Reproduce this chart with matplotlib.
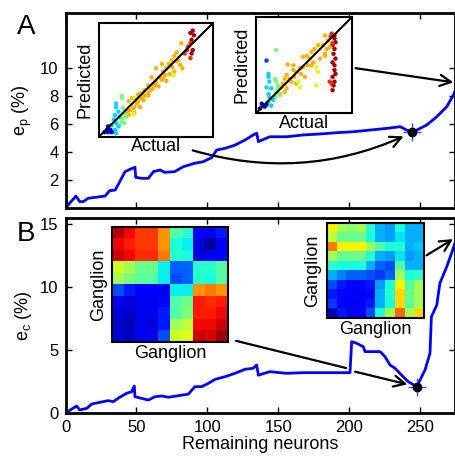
import matplotlib
matplotlib.use("Agg")
import matplotlib.pyplot as plt
import numpy as np

plt.rcParams['font.family'] = ['Liberation Sans', 'DejaVu Sans']

# panel A: prediction error vs remaining neurons
n_p = [0, 7.4, 10, 12.5, 16, 28, 31, 35, 37, 42, 45.5, 49, 49.5, 53.7, 58.4, 62, 66.6, 70, 77, 83,
       91, 97, 103, 106.6, 112.5, 119.5, 126.6, 132.4, 134.8, 136, 144, 156, 167.7, 179.5, 191,
       203, 214.7, 226.5, 236, 240.6, 244.6, 250, 254.7, 261.8, 268.8, 273.5, 275]
e_p = [0, 0.85, 0.45, 0.45, 0.69, 0.85, 1.23, 1.28, 1.64, 2.6, 2.77, 2.91, 2.19, 2.12, 2.12, 2.6, 2.72,
       2.55, 2.6, 2.95, 3.2, 3.31, 3.6, 4.15, 4.27, 4.5, 4.87, 5.23, 5.35, 4.75, 5.1, 5.1, 5.23, 5.3,
       5.39, 5.46, 5.58, 5.7, 5.82, 5.58, 5.42, 5.7, 5.94, 6.54, 7.25, 8.09, 8.45]
mark_p = (244.6, 5.42)

# panel B: correlation error vs remaining neurons
n_c = [0, 7.9, 10, 15, 18.5, 23, 30, 33.7, 37, 43, 46.7, 48.5, 49, 53.7, 58.4, 63, 67.8, 72.5, 79.5,
       86.6, 91.3, 96, 100.7, 105.4, 112.5, 119.5, 126.6, 132.4, 134.8, 136, 144, 156, 167.7, 179.5,
       191, 200.6, 201.8, 205.3, 210, 211.2, 221.8, 225.3, 228.8, 232.4, 237, 241.7, 247.7, 250,
       253.5, 257, 258, 261.8, 264, 268.8, 272.3, 275]
e_c = [0, 0.56, 0.24, 0.37, 0.71, 0.82, 0.98, 0.9, 1.16, 1.56, 1.69, 2.14, 1.29, 1.16, 1.03, 1.29, 1.35,
       1.25, 1.37, 1.5, 2.09, 2.09, 2.35, 2.67, 2.88, 3.15, 3.47, 3.55, 3.81, 3.0, 3.28, 3.15, 3.2, 3.2,
       3.2, 3.2, 5.66, 5.53, 5.26, 4.87, 4.87, 4.47, 3.81, 3.55, 3.0, 2.48, 2.09, 2.62, 3.41, 4.74,
       7.64, 8.57, 10.3, 11.6, 12.7, 13.6]
mark_c = (247.7, 2.09)

# inset A1 scatter (actual, predicted, colour value)
act1 = [0.82, 0.83, 0.81, 0.82, 0.81, 0.80,
        0.80, 0.78, 0.80, 0.75, 0.77,
        0.72, 0.68, 0.66, 0.64, 0.69, 0.71, 0.73, 0.61, 0.59, 0.56, 0.58, 0.53, 0.55, 0.50, 0.49, 0.47,
        0.52, 0.45, 0.43, 0.40, 0.43, 0.39, 0.37, 0.34, 0.33, 0.36, 0.31, 0.30, 0.29, 0.26, 0.27, 0.24,
        0.26, 0.34, 0.59, 0.62, 0.66, 0.50, 0.55, 0.46, 0.40, 0.48, 0.31, 0.68, 0.64, 0.56, 0.43, 0.37,
        0.65, 0.30, 0.31,
        0.20, 0.20, 0.21, 0.23, 0.21, 0.20, 0.24, 0.18, 0.22,
        0.15, 0.15, 0.17, 0.14, 0.13, 0.15, 0.17, 0.14, 0.13, 0.15, 0.11, 0.18,
        0.08, 0.07, 0.08, 0.10, 0.05, 0.11]
pred1 = [0.93, 0.89, 0.85, 0.76, 0.73, 0.91,
         0.82, 0.79, 0.69, 0.73, 0.76,
         0.82, 0.74, 0.71, 0.67, 0.67, 0.63, 0.60, 0.64, 0.60, 0.57, 0.54, 0.52, 0.50, 0.48, 0.45, 0.42,
         0.44, 0.41, 0.38, 0.36, 0.36, 0.32, 0.34, 0.31, 0.29, 0.26, 0.26, 0.25, 0.34, 0.31, 0.23, 0.22,
         0.19, 0.37, 0.49, 0.55, 0.57, 0.60, 0.64, 0.52, 0.41, 0.46, 0.21, 0.66, 0.61, 0.51, 0.45, 0.38,
         0.54, 0.20, 0.34,
         0.36, 0.34, 0.25, 0.19, 0.16, 0.13, 0.18, 0.10, 0.12,
         0.29, 0.26, 0.22, 0.19, 0.15, 0.12, 0.09, 0.06, 0.04, 0.03, 0.10, 0.17,
         0.09, 0.06, 0.04, 0.06, 0.04, 0.04]
col1 = [0.97] * 6 + [0.87] * 5 + [0.72] * 48 + [0.62] * 3 + [0.5] * 9 + [0.33] * 12 + [0.08] * 6

# inset A2 scatter
act2 = [0.82, 0.82, 0.83, 0.80, 0.82, 0.81, 0.83, 0.80, 0.82, 0.82, 0.83, 0.80, 0.82, 0.81, 0.80,
        0.79, 0.78, 0.80, 0.77, 0.79,
        0.72, 0.75, 0.70, 0.74, 0.77, 0.72, 0.65, 0.61, 0.58, 0.53, 0.49, 0.56, 0.60, 0.54, 0.49, 0.46,
        0.42, 0.39, 0.33, 0.32, 0.30, 0.35, 0.40, 0.37, 0.28, 0.26, 0.32, 0.30, 0.25, 0.42, 0.47, 0.51,
        0.67, 0.58, 0.72, 0.39,
        0.63, 0.65, 0.46, 0.63, 0.44,
        0.21, 0.20, 0.21, 0.23, 0.23, 0.21, 0.25, 0.20,
        0.13, 0.13, 0.14, 0.11, 0.16, 0.13, 0.14, 0.18, 0.13, 0.16,
        0.11,
        0.06, 0.07, 0.09, 0.04, 0.11]
pred2 = [0.81, 0.78, 0.74, 0.71, 0.67, 0.62, 0.57, 0.53, 0.50, 0.45, 0.41, 0.38, 0.33, 0.29, 0.24,
         0.83, 0.80, 0.73, 0.33, 0.31,
         0.81, 0.76, 0.71, 0.67, 0.69, 0.62, 0.71, 0.67, 0.64, 0.60, 0.59, 0.57, 0.53, 0.50, 0.48, 0.47,
         0.43, 0.45, 0.51, 0.40, 0.36, 0.36, 0.38, 0.33, 0.31, 0.27, 0.26, 0.22, 0.20, 0.31, 0.41, 0.38,
         0.57, 0.50, 0.60, 0.50,
         0.48, 0.43, 0.27, 0.29, 0.33,
         0.66, 0.36, 0.33, 0.29, 0.26, 0.22, 0.19, 0.17,
         0.41, 0.38, 0.33, 0.27, 0.26, 0.20, 0.17, 0.14, 0.12, 0.08,
         0.55,
         0.10, 0.08, 0.07, 0.05, 0.09]
col2 = [0.97] * 15 + [0.87] * 5 + [0.72] * 36 + [0.62] * 5 + [0.5] * 8 + [0.33] * 10 + [0.18] + [0.08] * 5

# inset B1 / B2 correlation matrices (jet colour values)
corr1 = [[0.95, 0.90, 0.85, 0.85, 0.75, 0.45, 0.40, 0.12, 0.12, 0.15],
         [0.90, 0.88, 0.85, 0.85, 0.75, 0.38, 0.36, 0.08, 0.03, 0.12],
         [0.93, 0.90, 0.86, 0.86, 0.78, 0.40, 0.38, 0.08, 0.10, 0.12],
         [0.60, 0.55, 0.48, 0.48, 0.36, 0.22, 0.22, 0.40, 0.40, 0.45],
         [0.55, 0.50, 0.46, 0.45, 0.36, 0.20, 0.22, 0.40, 0.38, 0.45],
         [0.20, 0.15, 0.12, 0.12, 0.10, 0.36, 0.36, 0.75, 0.78, 0.75],
         [0.10, 0.08, 0.10, 0.10, 0.13, 0.45, 0.48, 0.88, 0.86, 0.88],
         [0.08, 0.07, 0.10, 0.10, 0.15, 0.45, 0.50, 0.88, 0.88, 0.90],
         [0.07, 0.05, 0.10, 0.08, 0.15, 0.55, 0.58, 0.90, 0.90, 0.93],
         [0.08, 0.06, 0.10, 0.10, 0.20, 0.60, 0.62, 0.93, 0.92, 0.97]]
corr2 = [[0.65, 0.55, 0.52, 0.55, 0.40, 0.30, 0.28, 0.38, 0.30, 0.30],
         [0.58, 0.48, 0.48, 0.48, 0.38, 0.30, 0.28, 0.35, 0.30, 0.30],
         [0.78, 0.65, 0.65, 0.65, 0.55, 0.45, 0.38, 0.40, 0.30, 0.32],
         [0.55, 0.48, 0.48, 0.48, 0.40, 0.30, 0.28, 0.35, 0.28, 0.30],
         [0.40, 0.38, 0.38, 0.38, 0.30, 0.22, 0.20, 0.45, 0.30, 0.30],
         [0.30, 0.25, 0.22, 0.22, 0.20, 0.18, 0.22, 0.55, 0.38, 0.40],
         [0.20, 0.15, 0.13, 0.12, 0.15, 0.28, 0.38, 0.65, 0.45, 0.55],
         [0.15, 0.13, 0.12, 0.12, 0.13, 0.30, 0.40, 0.68, 0.48, 0.55],
         [0.18, 0.12, 0.10, 0.12, 0.15, 0.30, 0.38, 0.68, 0.45, 0.55],
         [0.05, 0.15, 0.12, 0.12, 0.20, 0.38, 0.55, 0.80, 0.55, 0.68]]

xticks = [0, 50, 100, 150, 200, 250]

fig = plt.figure(figsize=(4.56, 4.57), dpi=100)
W, H = 456.0, 457.0


def px_axes(x0, y0, x1, y1):
    return fig.add_axes([x0 / W, 1 - y1 / H, (x1 - x0) / W, (y1 - y0) / H])


def style_main(ax):
    for s in ax.spines.values():
        s.set_linewidth(2)
    ax.tick_params(direction='in', length=4, width=1, top=True, right=True, labelsize=12, pad=5)
    ax.set_xticks(xticks)
    ax.set_xlim(0, 275)


axA = px_axes(65.5, 13.3, 455.5, 207.9)
axB = px_axes(65.5, 218.3, 455.5, 413)
style_main(axA)
style_main(axB)

axA.plot(n_p, e_p, color='#0000ff', lw=2)
axA.set_ylim(0, 13.95)
axA.set_yticks([2, 4, 6, 8, 10])
axA.set_xticklabels([])
axA.set_ylabel('e$_\\mathregular{p}$ (%)', fontsize=13, labelpad=4)
axA.plot(*mark_p, marker='+', color='#3355ff', ms=13, mew=1)
axA.plot(*mark_p, marker='o', color='k', ms=6)

axB.plot(n_c, e_c, color='#0000ff', lw=2)
axB.set_ylim(0, 15.45)
axB.set_yticks([0, 5, 10, 15])
axB.set_xlabel('Remaining neurons', fontsize=13, labelpad=1)
axB.set_ylabel('e$_\\mathregular{c}$ (%)', fontsize=13, labelpad=4)
axB.plot(*mark_c, marker='+', color='#3355ff', ms=13, mew=1)
axB.plot(*mark_c, marker='o', color='k', ms=6)

fig.text(26 / W, 1 - 27 / H, 'A', fontsize=20, ha='center', va='center')
fig.text(26 / W, 1 - 234 / H, 'B', fontsize=20, ha='center', va='center')

# scatter insets
ins1 = px_axes(99, 22.7, 213.3, 136.7)
ins2 = px_axes(256, 17.3, 351.7, 113.3)
for ax, a, p, c in [(ins1, act1, pred1, col1), (ins2, act2, pred2, col2)]:
    ax.scatter(a, p, c=c, cmap='jet', vmin=0, vmax=1, s=10, linewidths=0)
    ax.plot([0, 1], [0, 1], color='k', lw=1.5)
    ax.set_xlim(0, 1)
    ax.set_ylim(0, 1)
    ax.set_xticks([])
    ax.set_yticks([])
    for s in ax.spines.values():
        s.set_linewidth(1.5)
    ax.set_xlabel('Actual', fontsize=13, labelpad=1)
    ax.set_ylabel('Predicted', fontsize=13, labelpad=4)

# heatmap insets
hm1 = px_axes(112.3, 227, 228, 342)
hm2 = px_axes(327, 223, 423.7, 318)
for ax, m in [(hm1, corr1), (hm2, corr2)]:
    ax.imshow(np.array(m), cmap='jet', vmin=0, vmax=1, interpolation='nearest', aspect='auto')
    ax.set_xticks([])
    ax.set_yticks([])
    for s in ax.spines.values():
        s.set_linewidth(1.5)
    ax.set_xlabel('Ganglion', fontsize=13, labelpad=2)
    ax.set_ylabel('Ganglion', fontsize=13, labelpad=4)

arr = dict(arrowstyle='->', color='k', lw=1.6, mutation_scale=20)

# arrows in A
axA.annotate('', xy=mark_p, xycoords='data', xytext=(0.82, -0.12), textcoords=ins1.transAxes,
             arrowprops=dict(arr, connectionstyle='arc3,rad=0.19', shrinkA=0, shrinkB=7))
axA.annotate('', xy=(273.6, 9.0), xycoords='data', xytext=(1.04, 0.47), textcoords=ins2.transAxes,
             arrowprops=dict(arr, shrinkA=0, shrinkB=0))

# arrows in B
axB.annotate('', xy=(197.8, 3.57), xycoords='data', xytext=(1.07, 0.01), textcoords=hm1.transAxes,
             arrowprops=dict(arrowstyle='-', color='k', lw=1.6, shrinkA=0, shrinkB=0))
axB.annotate('', xy=mark_c, xycoords='data', xytext=(204.2, 3.28), textcoords='data',
             arrowprops=dict(arr, shrinkA=0, shrinkB=7))
axB.annotate('', xy=(273.3, 13.8), xycoords='data', xytext=(1.03, 0.66), textcoords=hm2.transAxes,
             arrowprops=dict(arr, shrinkA=0, shrinkB=0))

fig.savefig('out.png', dpi=100)
